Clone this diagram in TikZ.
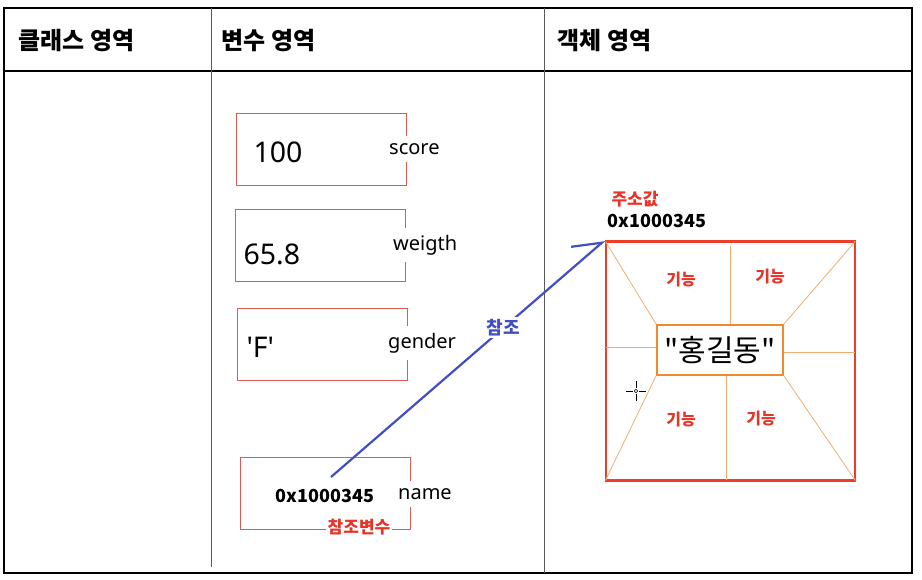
\documentclass[tikz,border=0pt]{standalone}
\usepackage{fontspec}
\setmainfont{Noto Sans}[Ligatures=TeXOff]
\newfontfamily\kr{Noto Sans CJK KR}
\usetikzlibrary{arrows.meta}
\definecolor{boxred}{RGB}{222,90,85}
\definecolor{objred}{RGB}{236,62,40}
\definecolor{labred}{RGB}{232,52,40}
\definecolor{objorange}{RGB}{240,136,46}
\definecolor{splitorange}{RGB}{244,172,112}
\definecolor{refblue}{RGB}{66,78,196}
\definecolor{divgray}{RGB}{90,90,90}

\tikzset{
  head/.style={anchor=west, font=\kr\bfseries\fontsize{24}{28}\selectfont},
  varbox/.style={draw=boxred, line width=1pt, minimum width=170pt, minimum height=72pt},
  valtext/.style={anchor=west, font=\fontsize{28.5}{31}\selectfont},
  vartext/.style={anchor=west, fill=white, inner xsep=1pt, inner ysep=7pt, font=\fontsize{20}{23}\selectfont},
  redlab/.style={text=labred, font=\kr\bfseries\fontsize{16}{18}\selectfont},
  addr/.style={font=\kr\bfseries\fontsize{18}{20}\selectfont},
  splitline/.style={draw=splitorange, line width=0.8pt},
  refarrow/.style={draw=refblue, line width=2.2pt, -{Straight Barb[harpoon, length=26pt, width=34pt]}}
}

\begin{document}
\begin{tikzpicture}[x=1pt,y=-1pt]
\useasboundingbox (0,0) rectangle (922,579);
% table frame
\draw[line width=2.5pt] (4,8) rectangle (912,573);
\draw[line width=1.2pt] (4,71) -- (912,71);
\draw[divgray, line width=1pt] (211,8) -- (211,567);
\draw[divgray, line width=1pt] (544,8) -- (544,573);
\node[head] (classhd) at (15,41) {클래스 영역};
\node[head] (varhd) at (218,41) {변수 영역};
\node[head] (objhd) at (554,41) {객체 영역};
% variables
\node[varbox] (scorebox) at (321,149) {};
\node[valtext] (scoreval) at (250,152) {100};
\node[vartext] (scorename) at (388,149) {score};
\node[varbox] (weigthbox) at (320,245) {};
\node[valtext] (weigthval) at (240,254) {65.8};
\node[vartext] (weigthname) at (392,245) {weigth};
\node[varbox] (genderbox) at (322,344) {};
\node[valtext] (genderval) at (243,347) {'F'};
\node[vartext] (gendername) at (387,343) {gender};
\node[varbox] (namebox) at (325.5,493) {};
\node[addr, anchor=west] (nameval) at (272,496) {0x1000345};
\node[vartext] (namename) at (397,494) {name};
\node[redlab, fill=white, inner sep=2pt, font=\kr\bfseries\fontsize{17}{19}\selectfont] (reflab) at (359,527) {참조변수};
% object
\node[draw=objred, line width=2.5pt, minimum width=249pt, minimum height=239pt] (obj) at (730.5,361) {};
\node[draw=objorange, line width=2pt, fill=white, minimum width=126pt, minimum height=50pt, inner sep=0pt,
  font=\kr\fontsize{30}{32}\selectfont] (hong) at (720,350) {"홍길동"};
\draw[splitline, shorten <=1.5pt] (obj.north west) -- (hong.north west);
\draw[splitline, shorten <=1.5pt] (obj.north east) -- (hong.north east);
\draw[splitline, shorten <=1.5pt] (obj.south west) -- (hong.south west);
\draw[splitline, shorten <=1.5pt] (obj.south east) -- (hong.south east);
\draw[splitline, shorten >=6pt] ([xshift=10pt]hong.north) -- ([xshift=10pt]hong.north |- obj.north);
\draw[splitline, shorten >=1.5pt] ([xshift=6pt]hong.south) -- ([xshift=6pt]hong.south |- obj.south);
\draw[splitline, shorten >=1.5pt] ([yshift=3pt]hong.west) -- ([yshift=3pt]hong.west -| obj.west);
\draw[splitline, shorten >=1.5pt] ([yshift=-2pt]hong.east) -- ([yshift=-2pt]hong.east -| obj.east);
\node[redlab] (func1) at (681,279) {기능};
\node[redlab] (func2) at (770,276) {기능};
\node[redlab] (func3) at (681,419) {기능};
\node[redlab] (func4) at (761,418) {기능};
\node[redlab, font=\kr\bfseries\fontsize{17}{19}\selectfont] (addrlab) at (635,199) {주소값};
\node[addr] (objaddr) at (657,221) {0x1000345};
% reference
\coordinate (ptr) at (331,477);
\draw[refarrow] (ptr) -- node[pos=0.63, fill=white, text=refblue, inner sep=2pt,
  font=\kr\bfseries\fontsize{18}{20}\selectfont] (refword) {참조} (obj.north west);
% cursor
\draw[line width=0.8pt] (626,391) -- (633,391) (639,391) -- (646,391) (636,381) -- (636,388) (636,394) -- (636,401);
\draw[line width=0.6pt] (636,391) circle (1.8);
\end{tikzpicture}
\end{document}
